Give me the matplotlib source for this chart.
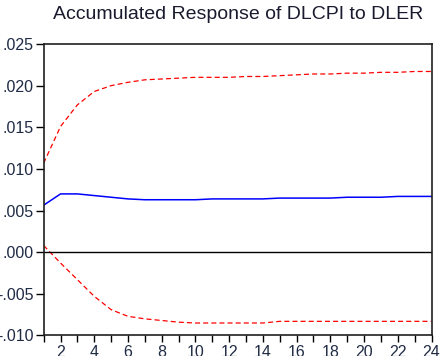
import matplotlib
matplotlib.use("Agg")
import matplotlib.pyplot as plt
from matplotlib.ticker import FuncFormatter

# ===== DATA =====
periods = list(range(1, 25))

response = [0.00565, 0.0070, 0.0070, 0.0068, 0.0066, 0.0064, 0.0063, 0.0063,
            0.0063, 0.0063, 0.0064, 0.0064, 0.0064, 0.0064, 0.0065, 0.0065,
            0.0065, 0.0065, 0.0066, 0.0066, 0.0066, 0.0067, 0.0067, 0.0067]

upper_band = [0.0107, 0.0151, 0.0177, 0.0193, 0.0200, 0.0204, 0.0207, 0.0208,
              0.0209, 0.0210, 0.0210, 0.0210, 0.0211, 0.0211, 0.0212, 0.0213,
              0.0214, 0.0214, 0.0215, 0.0215, 0.0216, 0.0216, 0.0217, 0.0217]

lower_band = [0.0008, -0.0013, -0.0033, -0.0053, -0.0069, -0.0077, -0.0080, -0.0082,
              -0.0084, -0.0085, -0.0085, -0.0085, -0.0085, -0.0085, -0.0083, -0.0083,
              -0.0083, -0.0083, -0.0083, -0.0083, -0.0083, -0.0083, -0.0083, -0.0083]

y_ticks = [-0.010, -0.005, 0.000, 0.005, 0.010, 0.015, 0.020, 0.025]
x_ticks = list(range(2, 25, 2))

title = "Accumulated Response of DLCPI to DLER"

# ===== PLOT =====
plt.rcParams["font.family"] = ["Liberation Sans", "DejaVu Sans"]

fig = plt.figure(figsize=(4.4, 3.56), dpi=100)
ax = fig.add_axes([0.0993, 0.0576, 0.8814, 0.8188])

ax.plot(periods, upper_band, color="#ff0000", lw=0.9, ls=(0, (4, 2.5)))
ax.plot(periods, lower_band, color="#ff0000", lw=0.9, ls=(0, (4, 2.5)))
ax.plot(periods, response, color="#0000ff", lw=1.1)
ax.axhline(0, color="black", lw=1.0)

ax.set_xlim(1, 24)
ax.set_ylim(-0.010, 0.025)
ax.set_yticks(y_ticks)
ax.set_xticks(periods, minor=True)
ax.set_xticks(x_ticks)


def eviews_fmt(v, pos):
    s = f"{v:.3f}"
    return s.replace("0.", ".", 1)


ax.yaxis.set_major_formatter(FuncFormatter(eviews_fmt))

ax.tick_params(axis="y", direction="out", length=6, width=1, pad=1,
               labelsize=11.5, colors="black", labelcolor="#1f2a44")
ax.tick_params(axis="x", which="both", direction="out", length=5, width=1,
               pad=2, labelsize=11.5, labelcolor="#1f2a44")
ax.tick_params(axis="x", which="minor", length=5)

for side in ["top", "right", "left", "bottom"]:
    ax.spines[side].set_linewidth(1.2)
    ax.spines[side].set_color("#202020")

fig.text(0.541, 0.958, title, ha="center", va="center", fontsize=14,
         color="#1a1a2e")

fig.savefig("out.png", dpi=100)
